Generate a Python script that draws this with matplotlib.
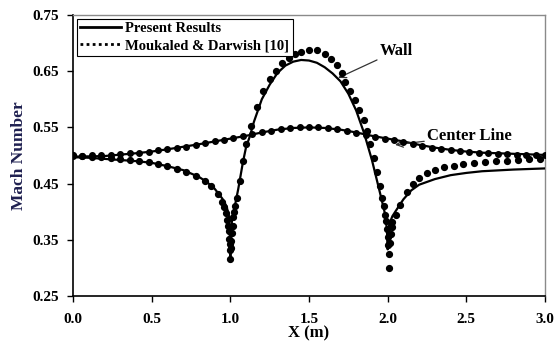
import matplotlib
matplotlib.use("Agg")
import matplotlib.pyplot as plt
from matplotlib.lines import Line2D

# Present results - wall
wall_x = [0.0, 0.1, 0.2, 0.3, 0.4, 0.5, 0.6, 0.7, 0.8, 0.85, 0.9, 0.95, 0.975, 0.99, 0.995, 1.0,
          1.005, 1.01, 1.02, 1.03, 1.05, 1.08, 1.1, 1.125, 1.15, 1.2, 1.25, 1.3, 1.35, 1.4, 1.45,
          1.5, 1.55, 1.6, 1.65, 1.7, 1.75, 1.8, 1.85, 1.9, 1.95, 1.98, 1.995, 2.0, 2.005, 2.01,
          2.03, 2.06, 2.1, 2.15, 2.2, 2.3, 2.4, 2.5, 2.6, 2.8, 3.0]
wall_m = [0.497, 0.496, 0.494, 0.492, 0.490, 0.487, 0.481, 0.474, 0.462, 0.453, 0.441, 0.423, 0.410, 0.395, 0.370, 0.320,
          0.360, 0.383, 0.398, 0.412, 0.440, 0.488, 0.515, 0.535, 0.560, 0.600, 0.626, 0.647, 0.660, 0.667, 0.670,
          0.669, 0.665, 0.657, 0.646, 0.632, 0.610, 0.580, 0.540, 0.492, 0.435, 0.400, 0.370, 0.333, 0.362, 0.378,
          0.392, 0.405, 0.422, 0.438, 0.448, 0.458, 0.465, 0.469, 0.472, 0.475, 0.477]

# Present results - center line
cen_x = [0.0, 0.2, 0.4, 0.5, 0.6, 0.8, 0.9, 1.0, 1.1, 1.2, 1.3, 1.4, 1.5, 1.6, 1.7, 1.8, 1.9,
         2.0, 2.1, 2.2, 2.3, 2.4, 2.5, 2.6, 2.8, 3.0]
cen_m = [0.498, 0.499, 0.504, 0.507, 0.511, 0.520, 0.525, 0.530, 0.535, 0.541, 0.546, 0.549, 0.550,
         0.549, 0.546, 0.541, 0.535, 0.530, 0.525, 0.519, 0.514, 0.510, 0.507, 0.505, 0.503, 0.501]

# Moukaled & Darwish [10] - wall
mw_x = [0.0, 0.06, 0.12, 0.18, 0.24, 0.30, 0.36, 0.42, 0.48, 0.54, 0.60, 0.66, 0.72, 0.78, 0.84,
        0.88, 0.92, 0.95, 0.96, 0.97, 0.98, 0.985, 0.99, 0.993, 0.996, 0.998, 1.0, 1.003, 1.006,
        1.01, 1.015, 1.02, 1.025, 1.03, 1.04, 1.06, 1.08, 1.10, 1.13, 1.17, 1.21, 1.25, 1.29,
        1.33, 1.37, 1.41, 1.45, 1.50, 1.55, 1.60, 1.64, 1.68, 1.71, 1.73, 1.76, 1.79, 1.82,
        1.85, 1.87, 1.89, 1.91, 1.93, 1.95, 1.965, 1.975, 1.985, 1.99, 1.995, 2.0, 2.003,
        2.006, 2.01, 2.015, 2.02, 2.025, 2.03, 2.05, 2.08, 2.12, 2.16, 2.2, 2.25, 2.3, 2.36,
        2.42, 2.48, 2.55, 2.62, 2.69, 2.76, 2.83, 2.9, 2.97]
mw_m = [0.500, 0.499, 0.498, 0.497, 0.496, 0.494, 0.492, 0.490, 0.488, 0.485, 0.481, 0.476, 0.471, 0.464, 0.454,
        0.445, 0.432, 0.418, 0.408, 0.398, 0.385, 0.375, 0.365, 0.352, 0.342, 0.332, 0.316, 0.335, 0.348,
        0.362, 0.375, 0.390, 0.400, 0.410, 0.425, 0.455, 0.490, 0.520, 0.552, 0.587, 0.615, 0.636, 0.651,
        0.664, 0.673, 0.680, 0.684, 0.687, 0.688, 0.680, 0.671, 0.661, 0.646, 0.631, 0.614, 0.598, 0.581,
        0.563, 0.544, 0.521, 0.496, 0.470, 0.445, 0.425, 0.410, 0.395, 0.383, 0.370, 0.355, 0.340,
        0.325, 0.300, 0.345, 0.360, 0.372, 0.382, 0.395, 0.412, 0.435, 0.450, 0.460, 0.468, 0.474, 0.479,
        0.482, 0.485, 0.487, 0.489, 0.490, 0.491, 0.492, 0.493, 0.494]

# Moukaled & Darwish [10] - center line
mc_x = [0.0, 0.06, 0.12, 0.18, 0.24, 0.30, 0.36, 0.42, 0.48, 0.54, 0.60, 0.66, 0.72, 0.78, 0.84,
        0.90, 0.96, 1.02, 1.08, 1.14, 1.20, 1.26, 1.32, 1.38, 1.44, 1.50, 1.56, 1.62, 1.68, 1.74,
        1.80, 1.86, 1.92, 1.98, 2.04, 2.10, 2.16, 2.22, 2.28, 2.34, 2.40, 2.46, 2.52, 2.58, 2.64,
        2.70, 2.76, 2.82, 2.88, 2.94, 3.0]
mc_m = [0.499, 0.499, 0.500, 0.500, 0.501, 0.503, 0.504, 0.505, 0.507, 0.509, 0.511, 0.514, 0.516, 0.519, 0.522,
        0.525, 0.528, 0.531, 0.535, 0.538, 0.541, 0.544, 0.547, 0.549, 0.550, 0.551, 0.550, 0.549, 0.547, 0.544,
        0.540, 0.537, 0.533, 0.530, 0.527, 0.524, 0.521, 0.517, 0.514, 0.512, 0.510, 0.508, 0.506, 0.505, 0.504,
        0.503, 0.502, 0.501, 0.501, 0.500, 0.500]

xticks = [0.0, 0.5, 1.0, 1.5, 2.0, 2.5, 3.0]
yticks = [0.25, 0.35, 0.45, 0.55, 0.65, 0.75]

serif = ["Liberation Serif", "DejaVu Serif"]
plt.rcParams["font.family"] = serif

fig = plt.figure(figsize=(5.55, 3.42), dpi=100)
ax = fig.add_axes([73/555, 46/342, 472/555, 281/342])

ax.plot(wall_x, wall_m, color="black", lw=1.6, solid_joinstyle="round", zorder=3)
ax.plot(cen_x, cen_m, color="black", lw=1.6, zorder=3)
ax.plot(mw_x, mw_m, linestyle="none", marker="o", ms=4.2, color="black", zorder=4)
ax.plot(mc_x, mc_m, linestyle="none", marker="o", ms=4.0, color="black", zorder=4)

ax.set_xlim(0, 3.0)
ax.set_ylim(0.25, 0.75)
ax.set_xticks(xticks)
ax.set_xticklabels([f"{v:.1f}" for v in xticks])
ax.set_yticks(yticks)
ax.set_yticklabels([f"{v:.2f}" for v in yticks])
ax.tick_params(direction="out", length=4, width=1, labelsize=11)
ax.tick_params(axis="x", pad=8)
ax.tick_params(axis="y", pad=6)
for lab in ax.get_xticklabels() + ax.get_yticklabels():
    lab.set_fontweight("bold")

for s in ["left", "bottom"]:
    ax.spines[s].set_color("black")
    ax.spines[s].set_linewidth(1.2)
for s in ["top", "right"]:
    ax.spines[s].set_color("#8a8a8a")
    ax.spines[s].set_linewidth(1.0)

ax.set_xlabel("X (m)", fontsize=12, fontweight="bold", labelpad=0)
ax.set_ylabel("Mach Number", fontsize=12.5, fontweight="bold", color="#1f2050", labelpad=4)

handles = [Line2D([0], [0], color="black", lw=2),
           Line2D([0], [0], color="black", lw=2, linestyle=(0, (1, 1.2)))]
leg = ax.legend(handles, ["Present Results", "Moukaled & Darwish [10]"],
                loc="upper left", bbox_to_anchor=(0.0, 1.0), borderaxespad=0.25,
                prop={"family": serif, "weight": "bold", "size": 10.5},
                frameon=True, fancybox=False, edgecolor="black", framealpha=1,
                handlelength=2.8, handletextpad=0.3, labelspacing=0.25, borderpad=0.25)
leg.get_frame().set_linewidth(0.8)

ax.annotate("Wall", xy=(1.685, 0.638), xytext=(1.95, 0.686),
            fontsize=12, fontweight="bold", va="center", ha="left",
            arrowprops=dict(arrowstyle="->", color="#333333", lw=0.9, shrinkA=0, shrinkB=0))
ax.annotate("Center Line", xy=(2.047, 0.519), xytext=(2.25, 0.535),
            fontsize=12, fontweight="bold", va="center", ha="left",
            arrowprops=dict(arrowstyle="->", color="#333333", lw=0.9, shrinkA=0, shrinkB=0))

fig.savefig("out.png", dpi=100)
